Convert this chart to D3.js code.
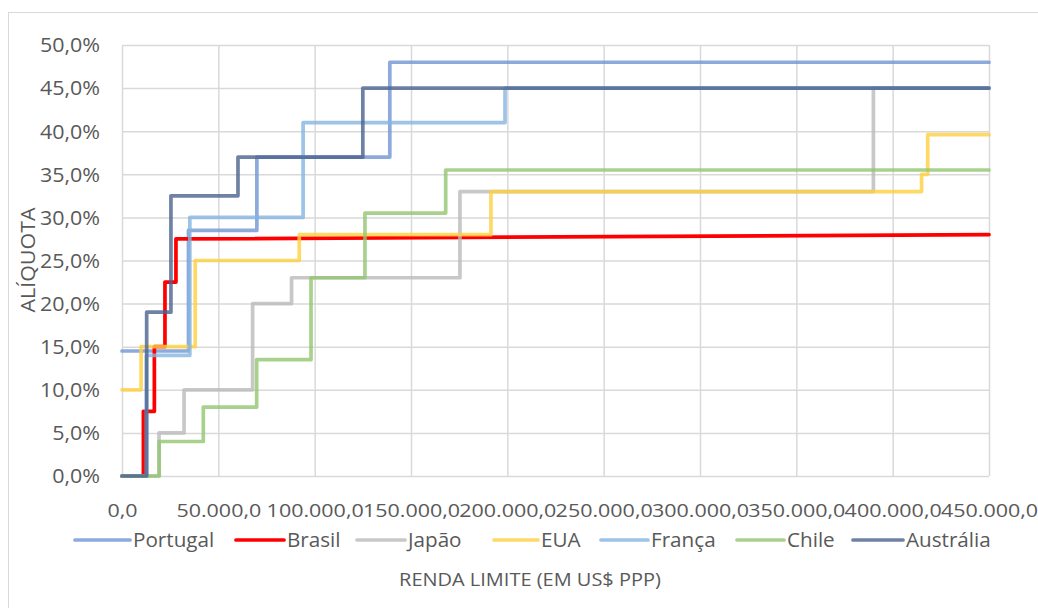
<!DOCTYPE html>
<html>
<head>
<meta charset="utf-8">
<script src="https://cdn.jsdelivr.net/npm/d3@7/dist/d3.min.js"></script>
<style>
  html, body { margin: 0; padding: 0; background: #fff; }
  svg { display: block; }
  text { font-family: "Open Sans", "Liberation Sans", sans-serif; fill: #595959; }
</style>
</head>
<body>
<svg id="chart" width="1038" height="608"></svg>
<script>
// Tick values
const xTickValues = [0, 50000, 100000, 150000, 200000, 250000, 300000, 350000, 400000, 450000];
const yTickValues = [0, 5, 10, 15, 20, 25, 30, 35, 40, 45, 50];

// Income limits (US$ PPP) where each marginal rate (%) starts
const seriesNames = ["Portugal", "Brasil", "Japão", "EUA", "França", "Chile", "Austrália"];

const portugalLimits = [0, 34500, 70000, 139000];
const portugalRates  = [14.5, 28.5, 37, 48];

const brasilLimits = [0, 11100, 16800, 22300, 28000];
const brasilRates  = [0, 7.5, 15, 22.5, 27.5];

const japaoLimits = [0, 19200, 32200, 67800, 88000, 175400, 390000];
const japaoRates  = [0, 5, 10, 20, 23, 33, 45];

const euaLimits = [0, 9900, 38000, 92000, 191500, 415000, 418200];
const euaRates  = [10, 15, 25, 28, 33, 35, 39.6];

const francaLimits = [0, 12700, 35200, 94000, 198800];
const francaRates  = [0, 14, 30, 41, 45];

const chileLimits = [0, 19300, 42200, 69900, 98100, 126100, 168000];
const chileRates  = [0, 4, 8, 13.5, 23, 30.5, 35.5];

const australiaLimits = [0, 12800, 25400, 60200, 125000];
const australiaRates  = [0, 19, 32.5, 37, 45];

// Rate reached at the right end of the axis (last point of each line)
const endIncome = 450000;
const endRates = [48, 28, 45, 39.6, 45, 35.5, 45];

const seriesColors   = ["#7195D3", "#FF0000", "#BABABA", "#FFD040", "#84B4E0", "#93C572", "#4B638E"];
const seriesOpacity  = [0.8, 1, 0.8, 0.8, 0.8, 0.8, 0.8];

const limitsList = [portugalLimits, brasilLimits, japaoLimits, euaLimits, francaLimits, chileLimits, australiaLimits];
const ratesList  = [portugalRates, brasilRates, japaoRates, euaRates, francaRates, chileRates, australiaRates];

// Layout
const svg = d3.select("#chart");
const W = 1038, H = 608;
const plot = { left: 122, right: 989, top: 45, bottom: 476 };

const x = d3.scaleLinear().domain([0, 450000]).range([plot.left, plot.right]);
const y = d3.scaleLinear().domain([0, 50]).range([plot.bottom, plot.top]);

const fmtX = v => d3.format(",.1f")(v).replace(/,/g, "#").replace(".", ",").replace(/#/g, ".");
const fmtY = v => d3.format(".1f")(v).replace(".", ",") + "%";

// Widen glyphs horizontally around each text's own anchor point
function widen(sel, sx) {
  sel.each(function () {
    const t = d3.select(this);
    const ax = +t.attr("x") || 0;
    const prev = t.attr("transform") || "";
    t.attr("transform", `${prev} translate(${ax},0) scale(${sx},1) translate(${-ax},0)`);
  });
}

// Chart area frame
svg.append("rect")
  .attr("x", 8.5).attr("y", 12.5)
  .attr("width", W).attr("height", H)
  .attr("fill", "#fff").attr("stroke", "#d9d9d9").attr("stroke-width", 1);

// Gridlines
const grid = svg.append("g");
grid.append("g")
  .attr("transform", `translate(0,${plot.bottom})`)
  .call(d3.axisBottom(x).tickValues(xTickValues).tickSize(-(plot.bottom - plot.top)).tickFormat(""))
  .call(g => g.select(".domain").remove())
  .call(g => g.selectAll("line").attr("stroke", "#d9d9d9").attr("stroke-width", 1.5));
grid.append("g")
  .attr("transform", `translate(${plot.left},0)`)
  .call(d3.axisLeft(y).tickValues(yTickValues).tickSize(-(plot.right - plot.left)).tickFormat(""))
  .call(g => g.select(".domain").remove())
  .call(g => g.selectAll("line").attr("stroke", "#d9d9d9").attr("stroke-width", 1.5));

// Axis tick labels
const xAxis = svg.append("g")
  .attr("transform", `translate(0,${plot.bottom})`)
  .call(d3.axisBottom(x).tickValues(xTickValues).tickSize(0).tickPadding(0).tickFormat(fmtX));
xAxis.select(".domain").remove();
xAxis.selectAll("text")
  .attr("y", 41).attr("dy", null)
  .style("font-size", "19px").style("font-family", "'Open Sans', sans-serif").attr("fill", "#595959")
  .call(widen, 1.13);

const yAxis = svg.append("g")
  .attr("transform", `translate(${plot.left},0)`)
  .call(d3.axisLeft(y).tickValues(yTickValues).tickSize(0).tickPadding(22).tickFormat(fmtY));
yAxis.select(".domain").remove();
yAxis.selectAll("text")
  .style("font-size", "19.5px").style("font-family", "'Open Sans', sans-serif").attr("fill", "#595959")
  .attr("dy", "0.35em")
  .call(widen, 1.1);

// Step lines built from limits/rates
function buildPoints(limits, rates, endRate) {
  const pts = [];
  for (let i = 0; i < limits.length; i++) {
    pts.push([limits[i], rates[i]]);
    if (i + 1 < limits.length) pts.push([limits[i + 1], rates[i]]);
  }
  pts.push([endIncome, endRate]);
  return pts;
}

const line = d3.line().x(d => x(d[0])).y(d => y(d[1]));

const lines = svg.append("g");
seriesNames.forEach((name, i) => {
  lines.append("path")
    .datum(buildPoints(limitsList[i], ratesList[i], endRates[i]))
    .attr("d", line)
    .attr("fill", "none")
    .attr("stroke", seriesColors[i])
    .attr("stroke-opacity", seriesOpacity[i])
    .attr("stroke-width", 3.7)
    .attr("stroke-linejoin", "round")
    .attr("stroke-linecap", "round");
});

// Legend
const legendY = 540;
const legendItems = [
  { sx: 75,  tx: 133 },
  { sx: 236, tx: 287 },
  { sx: 357, tx: 408 },
  { sx: 494, tx: 541 },
  { sx: 601, tx: 651 },
  { sx: 737, tx: 787 },
  { sx: 853, tx: 906 }
];
const legend = svg.append("g");
seriesNames.forEach((name, i) => {
  const it = legendItems[i];
  legend.append("line")
    .attr("x1", it.sx).attr("x2", it.tx - 3)
    .attr("y1", legendY).attr("y2", legendY)
    .attr("stroke", seriesColors[i])
    .attr("stroke-opacity", seriesOpacity[i])
    .attr("stroke-width", 3.7)
    .attr("stroke-linecap", "round");
  legend.append("text")
    .attr("x", it.tx).attr("y", legendY)
    .attr("dy", "0.35em")
    .style("font-size", "19.5px")
    .text(name)
    .call(widen, 1.06);
});

// Axis titles
svg.append("text")
  .attr("x", 530).attr("y", 580)
  .attr("text-anchor", "middle").attr("dy", "0.35em")
  .style("font-size", "18.5px")
  .text("RENDA LIMITE (EM US$ PPP)")
  .call(widen, 1.08);

svg.append("text")
  .attr("transform", "translate(28,260) rotate(-90) scale(1.1,1)")
  .attr("text-anchor", "middle").attr("dy", "0.35em")
  .style("font-size", "19.5px")
  .text("ALÍQUOTA");
</script>
</body>
</html>
